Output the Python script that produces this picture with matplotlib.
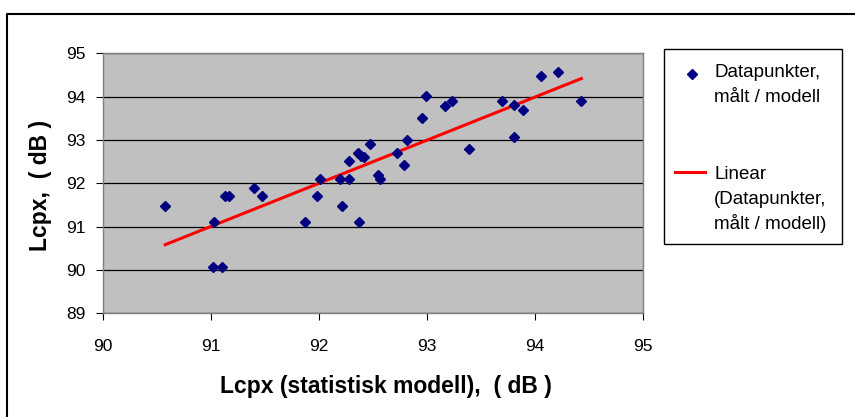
import numpy as np
import matplotlib
matplotlib.use("Agg")
import matplotlib.pyplot as plt
from matplotlib.lines import Line2D
from matplotlib.patches import Rectangle

plt.rcParams['font.family'] = ['Liberation Sans', 'DejaVu Sans']

# Data
x_model = [90.58, 91.03, 91.02, 91.11, 91.13, 91.17, 91.40, 91.48, 91.87, 91.98,
           92.01, 92.20, 92.22, 92.28, 92.28, 92.37, 92.36, 92.39, 92.42, 92.47,
           92.55, 92.57, 92.72, 92.79, 92.82, 92.96, 92.99, 93.17, 93.23, 93.39,
           93.70, 93.81, 93.81, 93.89, 94.06, 94.21, 94.43]
y_measured = [91.48, 91.11, 90.08, 90.08, 91.71, 91.71, 91.90, 91.71, 91.11, 91.71,
              92.10, 92.10, 91.48, 92.10, 92.51, 91.11, 92.70, 92.64, 92.60, 92.90,
              92.19, 92.11, 92.71, 92.42, 92.99, 93.50, 94.01, 93.78, 93.91, 92.80,
              93.91, 93.80, 93.08, 93.69, 94.48, 94.58, 93.91]
x_ticks = [90, 91, 92, 93, 94, 95]
y_ticks = [89, 90, 91, 92, 93, 94, 95]
x_label = "Lcpx (statistisk modell),  ( dB )"
y_label = "Lcpx,  ( dB )"
legend_points = ["Datapunkter,", "målt / modell"]
legend_line = ["Linear", "(Datapunkter,", "målt / modell)"]

W, H = 855, 417
fig = plt.figure(figsize=(W / 100, H / 100), dpi=100)

def fx(px):
    return px / W

def fy(py):
    return 1 - py / H

ax = fig.add_axes([fx(102.5), fy(313.3), fx(643) - fx(102.5), fy(53.3) - fy(313.3)])
ax.set_facecolor('#C0C0C0')
ax.set_xlim(90, 95)
ax.set_ylim(89, 95)
ax.set_xticks(x_ticks)
ax.set_yticks(y_ticks)
ax.yaxis.grid(True, color='black', linewidth=0.9)
ax.set_axisbelow(True)
for s in ax.spines.values():
    s.set_color('#808080')
    s.set_linewidth(1.0)
ax.tick_params(axis='both', direction='out', length=5, width=0.8, color='black',
               labelsize=12.5)
ax.tick_params(axis='x', pad=13.5)
ax.tick_params(axis='y', pad=7.5)

xs = np.array(x_model)
ys = np.array(y_measured)
slope, intercept = np.polyfit(xs, ys, 1)
xt = np.array([xs.min(), xs.max()])
ax.plot(xt, slope * xt + intercept, color='#FF0000', linewidth=2.2, zorder=3)
ax.plot(xs, ys, linestyle='none', marker='D', markersize=4.6,
        color='#000080', markeredgecolor='#000080', zorder=4)

fig.text(fx(386), fy(386), x_label, ha='center', va='center',
         fontsize=16.5, fontweight='bold')
fig.text(fx(40), fy(185), y_label, ha='center', va='center', rotation=90,
         fontsize=16.5, fontweight='bold')

# legend box
fig.add_artist(Rectangle((fx(664), fy(243.5)), fx(842) - fx(664), fy(49) - fy(243.5),
                         transform=fig.transFigure, facecolor='white',
                         edgecolor='black', linewidth=1.0))
fig.add_artist(Line2D([fx(692)], [fy(74)], marker='D', markersize=4.6,
                      color='#000080', linestyle='none', transform=fig.transFigure))
fig.add_artist(Line2D([fx(675), fx(705)], [fy(172), fy(172)], color='#FF0000',
                      linewidth=2.2, transform=fig.transFigure))
for txt, base in zip(legend_points, [77, 102]):
    fig.text(fx(714), fy(base), txt, ha='left', va='baseline', fontsize=13.5)
for txt, base in zip(legend_line, [179, 204, 229]):
    fig.text(fx(714), fy(base), txt, ha='left', va='baseline', fontsize=13.5)

# outer chart border (left and top visible)
fig.add_artist(Line2D([fx(7), fx(7), fx(856)], [fy(418), fy(13.5), fy(13.5)],
                      color='black', linewidth=1.5, transform=fig.transFigure))

fig.savefig('out.png', dpi=100)
